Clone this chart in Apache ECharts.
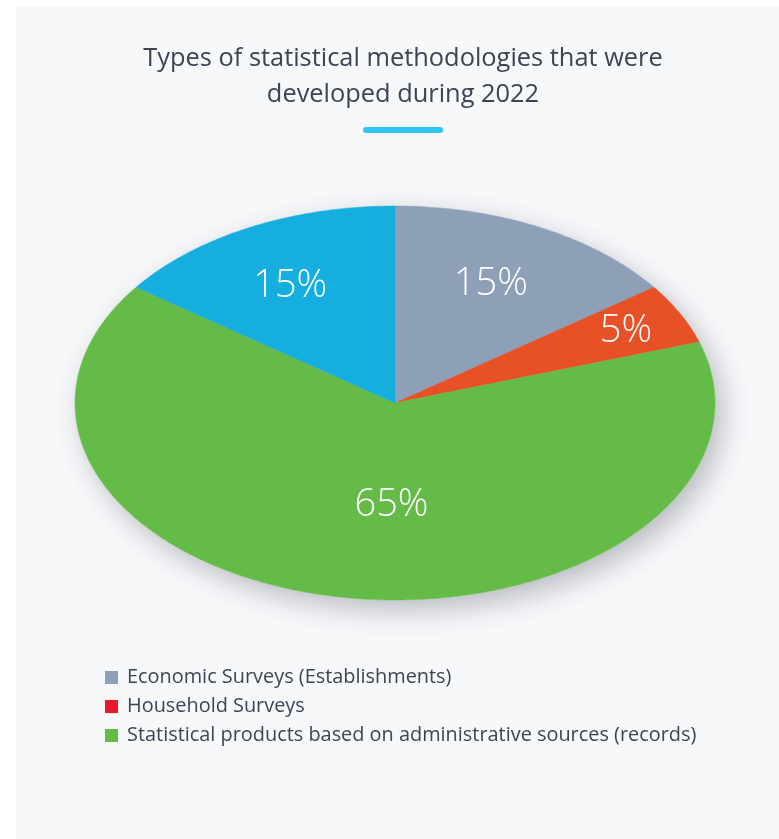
<!DOCTYPE html>
<html>
<head>
<meta charset="utf-8">
<script src="https://cdn.jsdelivr.net/npm/echarts@6/dist/echarts.min.js"></script>
<style>
  html, body { margin: 0; padding: 0; background: #ffffff; }
  #panel { position: absolute; left: 16px; top: 6px; width: 763px; height: 833px; background: #f7f8fa; }
  #chart { position: absolute; left: 0; top: 0; width: 779px; height: 839px; }
</style>
</head>
<body>
<div id="panel"></div>
<div id="chart"></div>
<script>
// ---- data ----
const titleLines = ['Types of statistical methodologies that were', 'developed during 2022'];
const categories = [
  'Economic Surveys (Establishments)',
  'Household Surveys',
  'Statistical products based on administrative sources (records)',
  'Other'
];
const values = [15, 5, 65, 15];
const sliceColors = ['#8e9fb8', '#e85125', '#65bb48', '#16addf'];
const legendCategories = categories.slice(0, 3);
const legendColors = ['#8e9fb8', '#e8192c', '#65bb48'];

// ---- layout ----
const CX = 395, CY = 403, RX = 320, RY = 197;
const FONT = '"Open Sans"';
const labelRadius = [0.66, 0.81, 0.51, 0.68];
const labelShift = [[0, -3], [0, 1], [22, 3], [-6, 3]];
const total = values.reduce((a, b) => a + b, 0);
const cum = [];
values.reduce((acc, v, i) => { cum[i] = acc; return acc + v; }, 0);

function pt(t, r) {
  return [CX + RX * r * Math.sin(t), CY - RY * r * Math.cos(t)];
}

function renderItem(params, api) {
  const i = params.dataIndex;
  const v = api.value(0);
  const a0 = cum[i] / total * Math.PI * 2;
  const a1 = (cum[i] + v) / total * Math.PI * 2;
  const pts = [[CX, CY]];
  const n = Math.max(8, Math.ceil((a1 - a0) / 0.01));
  for (let k = 0; k <= n; k++) pts.push(pt(a0 + (a1 - a0) * k / n, 1));
  const mid = (a0 + a1) / 2;
  const lp = pt(mid, labelRadius[i]);
  const children = [];
  if (i === 0) {
    const full = [];
    for (let k = 0; k < 360; k++) full.push(pt(k / 360 * Math.PI * 2, 1));
    children.push({
      type: 'polygon', shape: { points: full },
      style: { fill: '#ffffff', shadowBlur: 28, shadowOffsetX: 8, shadowOffsetY: 10, shadowColor: 'rgba(40,45,60,0.3)' }
    });
  }
  children.push({
    type: 'polygon', shape: { points: pts },
    style: { fill: sliceColors[i], stroke: sliceColors[i], lineWidth: 0.5 }
  });
  children.push({
    type: 'text', z2: 10,
    style: {
      text: Math.round(v / total * 100) + '%',
      x: lp[0] + labelShift[i][0], y: lp[1] + labelShift[i][1],
      align: 'center', verticalAlign: 'middle',
      fill: '#ffffff', fontSize: 38, fontFamily: FONT, fontWeight: 300
    }
  });
  return { type: 'group', children: children };
}

const titleGraphics = titleLines.map((line, i) => ({
  type: 'text', x: 403, y: 59 + i * 36,
  style: { text: line, align: 'center', verticalAlign: 'middle', fill: '#3d4452', fontSize: 25.4, fontFamily: FONT }
}));

const legendGraphics = legendCategories.map((name, i) => ({
  type: 'group', left: 105, top: 667 + i * 29,
  children: [
    { type: 'rect', shape: { x: 0, y: 2, width: 13, height: 13 }, style: { fill: legendColors[i] } },
    { type: 'text', x: 22, y: 8, style: { text: name, fill: '#3d4452', fontSize: 19.9, fontFamily: FONT, verticalAlign: 'middle' } }
  ]
}));

const chart = echarts.init(document.getElementById('chart'), null, { renderer: 'canvas' });
chart.setOption({
  backgroundColor: 'transparent',
  animation: false,
  graphic: [
    { type: 'rect', left: 363, top: 127, shape: { width: 80, height: 6, r: 3 }, style: { fill: '#2ec5f0' } }
  ].concat(titleGraphics, legendGraphics),
  series: [{
    type: 'custom',
    coordinateSystem: 'none',
    renderItem: renderItem,
    data: values.map((v, i) => ({ value: [v], name: categories[i] }))
  }]
});
</script>
</body>
</html>
